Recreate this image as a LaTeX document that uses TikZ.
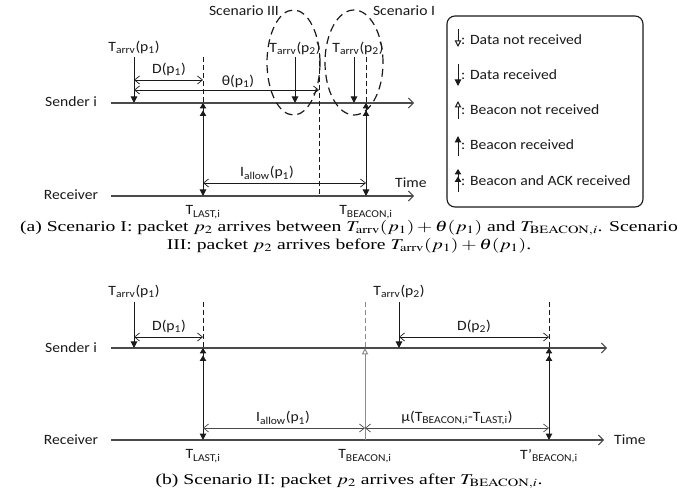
\documentclass[tikz,border=0pt]{standalone}
\usepackage{graphicx}
\usepackage{mathptmx}
\usepackage[no-math]{fontspec}
\setmainfont{Liberation Serif}
\newfontfamily\lblfont{Carlito}
\usetikzlibrary{arrows.meta,shapes.geometric}

\definecolor{ink}{HTML}{1A1A1A}
\definecolor{mid}{HTML}{4A4A4A}
\definecolor{faint}{HTML}{8C8C8C}

% horizontally widened text, for labels and captions
\newcommand{\lw}[1]{\scalebox{1.1}[1]{#1}}
\newcommand{\cw}[1]{\scalebox{1.31}[1]{#1}}
\newcommand{\Tarrv}[1]{T\textsubscript{arrv}(p\textsubscript{#1})}

\tikzset{
  lbl/.style={font=\lblfont\fontsize{14.2}{17}\selectfont, inner sep=0pt, text=ink},
  captext/.style={font=\fontsize{15}{18}\selectfont, inner sep=0pt, align=center, text=black},
  timeaxis/.style={draw=mid, line width=1.1pt, -{Straight Barb[length=5pt,width=10pt,line width=0.9pt]}},
  span/.style={draw=ink, line width=0.8pt, {Straight Barb[length=5pt,width=8pt,line width=0.7pt]}-{Straight Barb[length=5pt,width=8pt,line width=0.7pt]}},
  guide/.style={draw=ink, line width=0.9pt, dash pattern=on 5pt off 3pt},
  datarx/.style={draw=ink, line width=1pt, -{Triangle[length=6.5pt,width=6.5pt]}},
  lost/.style={draw=ink, line width=1pt, -{Triangle[open,length=6.5pt,width=6.5pt]}},
  beaconack/.style={draw=ink, line width=1pt, {Triangle[length=6.5pt,width=6.5pt]}-{Triangle[length=5.5pt,width=6.5pt,sep=2pt]Triangle[length=5.5pt,width=6.5pt]}},
  ackonly/.style={draw=ink, line width=1pt, -{Triangle[length=5.5pt,width=6.5pt,sep=2pt]Triangle[length=5.5pt,width=6.5pt]}},
  scen/.style={ellipse, draw=ink, line width=1.2pt, dash pattern=on 8pt off 5pt, inner sep=0pt},
  legendbox/.style={draw=ink, line width=1.1pt, rounded corners=8pt, inner sep=0pt},
}

\begin{document}
\begin{tikzpicture}[x=1pt, y=-1pt]
\useasboundingbox[fill=white] (0,0) rectangle (699,494);

% ---------------- panel (a) ----------------
\coordinate (aS0) at (111,103); \coordinate (aS1) at (414,103);
\coordinate (aR0) at (111,196); \coordinate (aR1) at (414,196);
\draw[timeaxis] (aS0) -- (aS1);
\draw[timeaxis] (aR0) -- (aR1);
\node[lbl] (aSender) at (71,102) {\lw{Sender i}};
\node[lbl] (aReceiver) at (71,195) {\lw{Receiver}};
\node[lbl, anchor=west] (aTime) at (395,183) {\lw{Time}};

% arrival of p1
\node[lbl] (aT1) at (134,47) {\lw{\Tarrv{1}}};
\coordinate (aT1top) at (134,57); \coordinate (aT1bot) at (134,103);
\draw[datarx] (aT1top) -- (aT1bot);

% last beacon
\coordinate (aLtop) at (203,57); \coordinate (aLs) at (203,103); \coordinate (aLr) at (203,196);
\draw[guide] (aLtop) -- (aLs);
\draw[beaconack] (aLr) -- (aLs);
\node[lbl] (aTlast) at (203,212) {\lw{T\textsubscript{LAST,i}}};

% D(p1) and theta(p1)
\coordinate (aD0) at (134,80); \coordinate (aD1) at (203,80);
\draw[span] (aD0) -- (aD1);
\node[lbl] (aDlab) at (169,69) {\lw{D(p\textsubscript{1})}};
\coordinate (aH0) at (134,90); \coordinate (aH1) at (319,90);
\draw[span] (aH0) -- (aH1);
\node[lbl] (aHlab) at (238,81) {\lw{θ(p\textsubscript{1})}};
\coordinate (aHtop) at (319,53); \coordinate (aHbot) at (319,196);
\draw[guide] (aHtop) -- (aHbot);

% arrivals of p2 in the two scenarios
\node[lbl] (aP2a) at (295,48) {\lw{\Tarrv{2}}};
\coordinate (aP2atop) at (295,57); \coordinate (aP2abot) at (295,103);
\draw[datarx] (aP2atop) -- (aP2abot);
\node[lbl] (aP2b) at (358,48) {\lw{\Tarrv{2}}};
\coordinate (aP2btop) at (354,57); \coordinate (aP2bbot) at (354,103);
\draw[datarx] (aP2btop) -- (aP2bbot);

% next beacon
\coordinate (aBtop) at (366,57); \coordinate (aBs) at (366,103); \coordinate (aBr) at (366,196);
\draw[guide] (aBtop) -- (aBs);
\draw[beaconack] (aBr) -- (aBs);
\node[lbl] (aTbeacon) at (366,212) {\lw{T\textsubscript{BEACON,i}}};

% I_allow(p1)
\coordinate (aI0) at (203,183); \coordinate (aI1) at (366,183);
\draw[span] (aI0) -- (aI1);
\node[lbl] (aIlab) at (267,173) {\lw{I\textsubscript{allow}(p\textsubscript{1})}};

% scenario outlines
\node[scen, minimum width=53pt, minimum height=105pt] (scenIII) at (293.5,62.5) {};
\node[scen, minimum width=58pt, minimum height=105pt] (scenI) at (354,62.5) {};
\node[lbl] (scenIIIlab) at (244,11) {\lw{Scenario III}};
\node[lbl] (scenIlab) at (404,11) {\lw{Scenario I}};

% legend
\node[legendbox, minimum width=196pt, minimum height=191pt] (legend) at (545,111.5) {};
\coordinate (k1a) at (458,29);  \coordinate (k1b) at (458,47);
\coordinate (k2a) at (458,64);  \coordinate (k2b) at (458,86);
\coordinate (k3a) at (458,119); \coordinate (k3b) at (458,101);
\coordinate (k4a) at (458,156); \coordinate (k4b) at (458,136);
\coordinate (k5a) at (458,192); \coordinate (k5b) at (458,169);
\draw[lost] (k1a) -- (k1b);
\draw[datarx] (k2a) -- (k2b);
\draw[lost] (k3a) -- (k3b);
\draw[datarx] (k4a) -- (k4b);
\draw[ackonly] (k5a) -- (k5b);
\node[lbl, anchor=west] (k1) at (461,40)  {\lw{: Data not received}};
\node[lbl, anchor=west] (k2) at (461,75)  {\lw{: Data received}};
\node[lbl, anchor=west] (k3) at (461,110) {\lw{: Beacon not received}};
\node[lbl, anchor=west] (k4) at (461,145) {\lw{: Beacon received}};
\node[lbl, anchor=west] (k5) at (461,181) {\lw{: Beacon and ACK received}};

\node[captext] (capa) at (349,236.5)
  {\cw{(a) Scenario I: packet $p_2$ arrives between $T_{\mathrm{arrv}}(p_1)+\theta(p_1)$ and $T_{\mathrm{BEACON},i}$. Scenario}\\
   \cw{III: packet $p_2$ arrives before $T_{\mathrm{arrv}}(p_1)+\theta(p_1)$.}};

% ---------------- panel (b) ----------------
\coordinate (bS0) at (111,348); \coordinate (bS1) at (607,348);
\coordinate (bR0) at (111,440); \coordinate (bR1) at (604,440);
\draw[timeaxis] (bS0) -- (bS1);
\draw[timeaxis] (bR0) -- (bR1);
\node[lbl] (bSender) at (71,348) {\lw{Sender i}};
\node[lbl] (bReceiver) at (71,440) {\lw{Receiver}};
\node[lbl, anchor=west] (bTime) at (614,440) {\lw{Time}};

% arrival of p1
\node[lbl] (bT1) at (134,291) {\lw{\Tarrv{1}}};
\coordinate (bT1top) at (134,302); \coordinate (bT1bot) at (134,348);
\draw[datarx] (bT1top) -- (bT1bot);

% last beacon
\coordinate (bLtop) at (203,302); \coordinate (bLs) at (203,348); \coordinate (bLr) at (203,440);
\draw[guide] (bLtop) -- (bLs);
\draw[beaconack] (bLr) -- (bLs);
\node[lbl] (bTlast) at (203,456) {\lw{T\textsubscript{LAST,i}}};
\coordinate (bD0) at (134,337); \coordinate (bD1) at (203,337);
\draw[span] (bD0) -- (bD1);
\node[lbl] (bDlab) at (169,326) {\lw{D(p\textsubscript{1})}};

% missed beacon
\coordinate (bMtop) at (365,302); \coordinate (bMs) at (365,348); \coordinate (bMr) at (365,440);
\draw[guide, draw=faint] (bMtop) -- (bMs);
\draw[lost, draw=faint] (bMr) -- (bMs);
\node[lbl] (bTbeacon) at (365,456) {\lw{T\textsubscript{BEACON,i}}};

% arrival of p2
\node[lbl] (bT2) at (399,291) {\lw{\Tarrv{2}}};
\coordinate (bT2top) at (399,302); \coordinate (bT2bot) at (399,348);
\draw[datarx] (bT2top) -- (bT2bot);

% rescheduled beacon
\coordinate (bNtop) at (549,302); \coordinate (bNs) at (549,348); \coordinate (bNr) at (549,440);
\draw[guide] (bNtop) -- (bNs);
\draw[beaconack] (bNr) -- (bNs);
\node[lbl] (bTnext) at (549,456) {\lw{T’\textsubscript{BEACON,i}}};
\coordinate (bE0) at (399,337); \coordinate (bE1) at (549,337);
\draw[span] (bE0) -- (bE1);
\node[lbl] (bElab) at (474,326) {\lw{D(p\textsubscript{2})}};

% intervals on the receiver side
\coordinate (bI0) at (203,428); \coordinate (bI1) at (365,428); \coordinate (bI2) at (549,428);
\draw[span, draw=mid] (bI0) -- (bI1);
\draw[span, draw=mid] (bI1) -- (bI2);
\node[lbl] (bIlab) at (283,418) {\lw{I\textsubscript{allow}(p\textsubscript{1})}};
\node[lbl] (bMulab) at (457,418) {\lw{μ(T\textsubscript{BEACON,i}-T\textsubscript{LAST,i})}};

\node[captext] (capb) at (349,481)
  {\cw{(b) Scenario II: packet $p_2$ arrives after $T_{\mathrm{BEACON},i}$.}};
\end{tikzpicture}
\end{document}
